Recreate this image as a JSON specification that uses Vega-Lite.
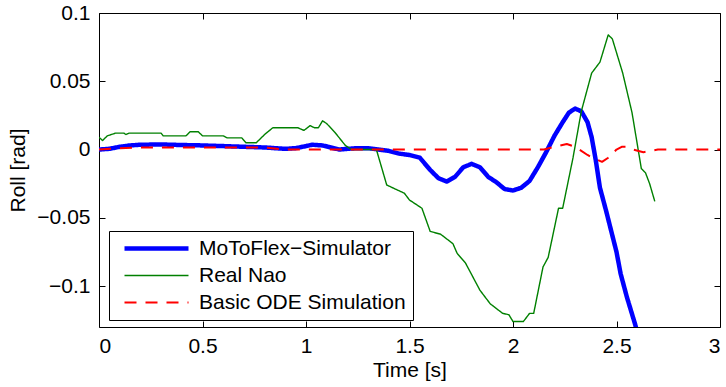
{
  "$schema": "https://vega.github.io/schema/vega-lite/v6.json",
  "width": 621,
  "height": 314,
  "autosize": {"type": "none"},
  "padding": {"left": 99, "top": 13, "right": 6, "bottom": 60},
  "background": "white",
  "config": {
    "view": {"stroke": "black", "strokeWidth": 1},
    "font": "Liberation Sans",
    "axis": {
      "labelFont": "Liberation Sans", "labelFontSize": 21, "labelColor": "black",
      "titleFont": "Liberation Sans", "titleFontSize": 21, "titleColor": "black", "titleFontWeight": "normal",
      "grid": false, "domain": false, "tickColor": "black", "tickSize": -6, "tickWidth": 1
    },
    "legend": {
      "labelFont": "Liberation Sans", "labelFontSize": 21, "labelColor": "black", "labelLimit": 400
    }
  },
  "data": {"values": [
    {"series": "MoToFlex−Simulator", "t": 0, "roll": 0},
    {"series": "MoToFlex−Simulator", "t": 0.05, "roll": 0.0005},
    {"series": "MoToFlex−Simulator", "t": 0.1, "roll": 0.002},
    {"series": "MoToFlex−Simulator", "t": 0.15, "roll": 0.003},
    {"series": "MoToFlex−Simulator", "t": 0.2, "roll": 0.0035},
    {"series": "MoToFlex−Simulator", "t": 0.3, "roll": 0.0037},
    {"series": "MoToFlex−Simulator", "t": 0.4, "roll": 0.0033},
    {"series": "MoToFlex−Simulator", "t": 0.5, "roll": 0.003},
    {"series": "MoToFlex−Simulator", "t": 0.6, "roll": 0.0025},
    {"series": "MoToFlex−Simulator", "t": 0.7, "roll": 0.002},
    {"series": "MoToFlex−Simulator", "t": 0.8, "roll": 0.0015},
    {"series": "MoToFlex−Simulator", "t": 0.9, "roll": 0.0005},
    {"series": "MoToFlex−Simulator", "t": 0.95, "roll": 0.001},
    {"series": "MoToFlex−Simulator", "t": 1.0, "roll": 0.0025},
    {"series": "MoToFlex−Simulator", "t": 1.03, "roll": 0.0035},
    {"series": "MoToFlex−Simulator", "t": 1.08, "roll": 0.003},
    {"series": "MoToFlex−Simulator", "t": 1.12, "roll": 0.0015},
    {"series": "MoToFlex−Simulator", "t": 1.16, "roll": 0.0},
    {"series": "MoToFlex−Simulator", "t": 1.2, "roll": 0.0005},
    {"series": "MoToFlex−Simulator", "t": 1.25, "roll": 0.001},
    {"series": "MoToFlex−Simulator", "t": 1.3, "roll": 0.001},
    {"series": "MoToFlex−Simulator", "t": 1.35, "roll": 0.0},
    {"series": "MoToFlex−Simulator", "t": 1.4, "roll": -0.001},
    {"series": "MoToFlex−Simulator", "t": 1.45, "roll": -0.003},
    {"series": "MoToFlex−Simulator", "t": 1.5, "roll": -0.004},
    {"series": "MoToFlex−Simulator", "t": 1.55, "roll": -0.006},
    {"series": "MoToFlex−Simulator", "t": 1.6, "roll": -0.015},
    {"series": "MoToFlex−Simulator", "t": 1.64, "roll": -0.021},
    {"series": "MoToFlex−Simulator", "t": 1.68, "roll": -0.0235},
    {"series": "MoToFlex−Simulator", "t": 1.72, "roll": -0.02},
    {"series": "MoToFlex−Simulator", "t": 1.76, "roll": -0.013},
    {"series": "MoToFlex−Simulator", "t": 1.8, "roll": -0.0105},
    {"series": "MoToFlex−Simulator", "t": 1.84, "roll": -0.013},
    {"series": "MoToFlex−Simulator", "t": 1.88, "roll": -0.02},
    {"series": "MoToFlex−Simulator", "t": 1.92, "roll": -0.024},
    {"series": "MoToFlex−Simulator", "t": 1.96, "roll": -0.029},
    {"series": "MoToFlex−Simulator", "t": 2.0, "roll": -0.03},
    {"series": "MoToFlex−Simulator", "t": 2.04, "roll": -0.028},
    {"series": "MoToFlex−Simulator", "t": 2.08, "roll": -0.023},
    {"series": "MoToFlex−Simulator", "t": 2.12, "roll": -0.013},
    {"series": "MoToFlex−Simulator", "t": 2.16, "roll": -0.002},
    {"series": "MoToFlex−Simulator", "t": 2.2, "roll": 0.01},
    {"series": "MoToFlex−Simulator", "t": 2.24, "roll": 0.02},
    {"series": "MoToFlex−Simulator", "t": 2.27, "roll": 0.027},
    {"series": "MoToFlex−Simulator", "t": 2.3, "roll": 0.03},
    {"series": "MoToFlex−Simulator", "t": 2.33, "roll": 0.028},
    {"series": "MoToFlex−Simulator", "t": 2.36, "roll": 0.02},
    {"series": "MoToFlex−Simulator", "t": 2.38, "roll": 0.009},
    {"series": "MoToFlex−Simulator", "t": 2.4, "roll": -0.008},
    {"series": "MoToFlex−Simulator", "t": 2.42, "roll": -0.028},
    {"series": "MoToFlex−Simulator", "t": 2.45, "roll": -0.045},
    {"series": "MoToFlex−Simulator", "t": 2.47, "roll": -0.057},
    {"series": "MoToFlex−Simulator", "t": 2.5, "roll": -0.075},
    {"series": "MoToFlex−Simulator", "t": 2.52, "roll": -0.091},
    {"series": "MoToFlex−Simulator", "t": 2.55, "roll": -0.108},
    {"series": "MoToFlex−Simulator", "t": 2.59, "roll": -0.128},
    {"series": "MoToFlex−Simulator", "t": 2.6, "roll": -0.134},
    {"series": "Real Nao", "t": 0, "roll": 0.009},
    {"series": "Real Nao", "t": 0.017, "roll": 0.0066},
    {"series": "Real Nao", "t": 0.04, "roll": 0.01},
    {"series": "Real Nao", "t": 0.08, "roll": 0.012},
    {"series": "Real Nao", "t": 0.12, "roll": 0.012},
    {"series": "Real Nao", "t": 0.13, "roll": 0.011},
    {"series": "Real Nao", "t": 0.145, "roll": 0.012},
    {"series": "Real Nao", "t": 0.3, "roll": 0.012},
    {"series": "Real Nao", "t": 0.31, "roll": 0.01},
    {"series": "Real Nao", "t": 0.42, "roll": 0.01},
    {"series": "Real Nao", "t": 0.44, "roll": 0.013},
    {"series": "Real Nao", "t": 0.48, "roll": 0.013},
    {"series": "Real Nao", "t": 0.5, "roll": 0.01},
    {"series": "Real Nao", "t": 0.6, "roll": 0.01},
    {"series": "Real Nao", "t": 0.62, "roll": 0.0085},
    {"series": "Real Nao", "t": 0.69, "roll": 0.0085},
    {"series": "Real Nao", "t": 0.71, "roll": 0.005},
    {"series": "Real Nao", "t": 0.76, "roll": 0.005},
    {"series": "Real Nao", "t": 0.8, "roll": 0.011},
    {"series": "Real Nao", "t": 0.84, "roll": 0.016},
    {"series": "Real Nao", "t": 0.96, "roll": 0.016},
    {"series": "Real Nao", "t": 0.99, "roll": 0.014},
    {"series": "Real Nao", "t": 1.02, "roll": 0.0175},
    {"series": "Real Nao", "t": 1.04, "roll": 0.016},
    {"series": "Real Nao", "t": 1.06, "roll": 0.016},
    {"series": "Real Nao", "t": 1.08, "roll": 0.021},
    {"series": "Real Nao", "t": 1.1, "roll": 0.019},
    {"series": "Real Nao", "t": 1.14, "roll": 0.0125},
    {"series": "Real Nao", "t": 1.19, "roll": 0.003},
    {"series": "Real Nao", "t": 1.22, "roll": 0.0},
    {"series": "Real Nao", "t": 1.34, "roll": 0.0},
    {"series": "Real Nao", "t": 1.39, "roll": -0.026},
    {"series": "Real Nao", "t": 1.475, "roll": -0.032},
    {"series": "Real Nao", "t": 1.5, "roll": -0.037},
    {"series": "Real Nao", "t": 1.56, "roll": -0.043},
    {"series": "Real Nao", "t": 1.6, "roll": -0.06},
    {"series": "Real Nao", "t": 1.65, "roll": -0.062},
    {"series": "Real Nao", "t": 1.71, "roll": -0.069},
    {"series": "Real Nao", "t": 1.73, "roll": -0.076},
    {"series": "Real Nao", "t": 1.77, "roll": -0.083},
    {"series": "Real Nao", "t": 1.84, "roll": -0.103},
    {"series": "Real Nao", "t": 1.89, "roll": -0.113},
    {"series": "Real Nao", "t": 1.95, "roll": -0.12},
    {"series": "Real Nao", "t": 1.98, "roll": -0.121},
    {"series": "Real Nao", "t": 2.0, "roll": -0.126},
    {"series": "Real Nao", "t": 2.05, "roll": -0.126},
    {"series": "Real Nao", "t": 2.08, "roll": -0.12},
    {"series": "Real Nao", "t": 2.1, "roll": -0.12},
    {"series": "Real Nao", "t": 2.145, "roll": -0.086},
    {"series": "Real Nao", "t": 2.17, "roll": -0.079},
    {"series": "Real Nao", "t": 2.22, "roll": -0.043},
    {"series": "Real Nao", "t": 2.24, "roll": -0.043},
    {"series": "Real Nao", "t": 2.29, "roll": -0.006},
    {"series": "Real Nao", "t": 2.33, "roll": 0.028},
    {"series": "Real Nao", "t": 2.38, "roll": 0.056},
    {"series": "Real Nao", "t": 2.42, "roll": 0.064},
    {"series": "Real Nao", "t": 2.46, "roll": 0.084},
    {"series": "Real Nao", "t": 2.48, "roll": 0.081},
    {"series": "Real Nao", "t": 2.53, "roll": 0.056},
    {"series": "Real Nao", "t": 2.575, "roll": 0.027},
    {"series": "Real Nao", "t": 2.62, "roll": -0.014},
    {"series": "Real Nao", "t": 2.64, "roll": -0.017},
    {"series": "Real Nao", "t": 2.66, "roll": -0.025},
    {"series": "Real Nao", "t": 2.685, "roll": -0.038},
    {"series": "Basic ODE Simulation", "t": 0, "roll": 0},
    {"series": "Basic ODE Simulation", "t": 0.1, "roll": 0.001},
    {"series": "Basic ODE Simulation", "t": 0.2, "roll": 0.0015},
    {"series": "Basic ODE Simulation", "t": 0.8, "roll": 0.0015},
    {"series": "Basic ODE Simulation", "t": 0.9, "roll": 0},
    {"series": "Basic ODE Simulation", "t": 2.15, "roll": 0},
    {"series": "Basic ODE Simulation", "t": 2.2, "roll": 0.002},
    {"series": "Basic ODE Simulation", "t": 2.26, "roll": 0.004},
    {"series": "Basic ODE Simulation", "t": 2.3, "roll": 0.002},
    {"series": "Basic ODE Simulation", "t": 2.32, "roll": 0},
    {"series": "Basic ODE Simulation", "t": 2.36, "roll": -0.004},
    {"series": "Basic ODE Simulation", "t": 2.385, "roll": -0.006},
    {"series": "Basic ODE Simulation", "t": 2.43, "roll": -0.009},
    {"series": "Basic ODE Simulation", "t": 2.46, "roll": -0.006},
    {"series": "Basic ODE Simulation", "t": 2.48, "roll": -0.003},
    {"series": "Basic ODE Simulation", "t": 2.5, "roll": 0},
    {"series": "Basic ODE Simulation", "t": 2.525, "roll": 0.002},
    {"series": "Basic ODE Simulation", "t": 2.55, "roll": 0.002},
    {"series": "Basic ODE Simulation", "t": 2.58, "roll": 0},
    {"series": "Basic ODE Simulation", "t": 2.63, "roll": -0.002},
    {"series": "Basic ODE Simulation", "t": 2.7, "roll": 0},
    {"series": "Basic ODE Simulation", "t": 3.0, "roll": 0}
  ]},
  "layer": [
    {
      "mark": {"type": "line", "clip": true, "strokeCap": "butt", "strokeJoin": "round"},
      "encoding": {
        "x": {"field": "t", "type": "quantitative",
              "scale": {"domain": [0, 3], "nice": false, "zero": false},
              "axis": {"values": [0, 0.5, 1, 1.5, 2, 2.5, 3], "format": "~g", "title": "Time [s]",
                       "labelPadding": 14, "titleX": 310.5, "titleY": 43, "titleBaseline": "middle", "titleAnchor": "middle"}},
        "y": {"field": "roll", "type": "quantitative",
              "scale": {"domain": [-0.13, 0.1], "nice": false, "zero": false},
              "axis": {"values": [-0.1, -0.05, 0, 0.05, 0.1], "format": ".2~f", "title": "Roll [rad]",
                       "labelPadding": 15, "titleX": -81, "titleY": 157, "titleAngle": -90, "titleBaseline": "middle", "titleAlign": "center"}},
        "color": {"field": "series", "type": "nominal",
                  "scale": {"domain": ["MoToFlex−Simulator", "Real Nao", "Basic ODE Simulation"], "range": ["#0000ff", "#008000", "#ff0000"]},
                  "legend": {"title": null, "orient": "none", "legendX": 10, "legendY": 218,
                             "fillColor": "white", "strokeColor": "black", "padding": 7,
                             "symbolType": "M-4,0H4", "symbolSize": 256, "symbolOffset": 30, "labelOffset": 32,
                             "rowPadding": 5, "labelLimit": 400}},
        "strokeWidth": {"field": "series", "type": "nominal",
                        "scale": {"type": "ordinal", "domain": ["MoToFlex−Simulator", "Real Nao", "Basic ODE Simulation"], "range": [4.5, 1.4, 2]},
                        "legend": {"title": null}},
        "strokeDash": {"field": "series", "type": "nominal",
                       "scale": {"domain": ["MoToFlex−Simulator", "Real Nao", "Basic ODE Simulation"], "range": [[1, 0], [1, 0], [12, 9]]},
                       "legend": {"title": null}},
        "order": {"field": "t", "type": "quantitative"}
      }
    },
    {
      "mark": {"type": "line", "opacity": 0},
      "encoding": {
        "x": {"field": "t", "type": "quantitative",
              "axis": {"orient": "top", "values": [0, 0.5, 1, 1.5, 2, 2.5, 3], "labels": false, "title": null}},
        "y": {"field": "roll", "type": "quantitative",
              "axis": {"orient": "right", "values": [-0.1, -0.05, 0, 0.05, 0.1], "labels": false, "title": null}}
      }
    }
  ],
  "resolve": {"axis": {"x": "independent", "y": "independent"}}
}
